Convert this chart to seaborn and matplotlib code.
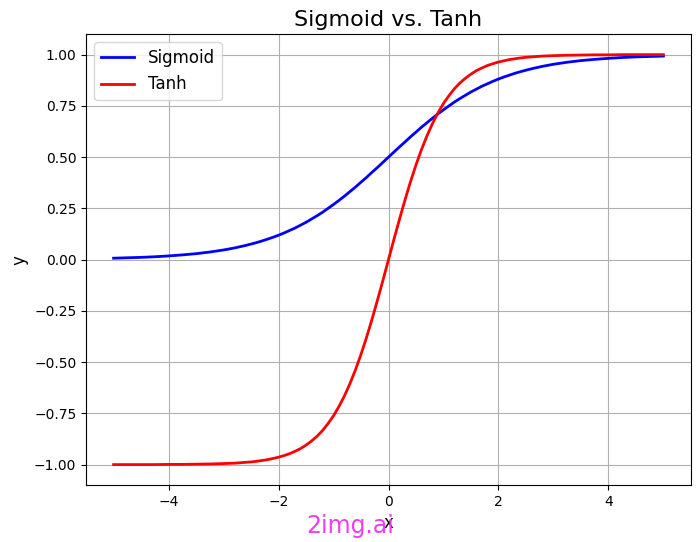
import matplotlib
matplotlib.use("Agg")
import matplotlib.pyplot as plt
import seaborn as sns
import pandas as pd

x_vals = [-5.0, -4.75, -4.5, -4.25, -4.0, -3.75, -3.5, -3.25,
          -3.0, -2.9, -2.8, -2.7, -2.6, -2.5, -2.4, -2.3, -2.2, -2.1,
          -2.0, -1.9, -1.8, -1.7, -1.6, -1.5, -1.4, -1.3, -1.2, -1.1,
          -1.0, -0.9, -0.8, -0.7, -0.6, -0.5, -0.4, -0.3, -0.2, -0.1,
          0.0, 0.1, 0.2, 0.3, 0.4, 0.5, 0.6, 0.7, 0.8, 0.9,
          1.0, 1.1, 1.2, 1.3, 1.4, 1.5, 1.6, 1.7, 1.8, 1.9,
          2.0, 2.1, 2.2, 2.3, 2.4, 2.5, 2.6, 2.7, 2.8, 2.9,
          3.0, 3.25, 3.5, 3.75, 4.0, 4.25, 4.5, 4.75, 5.0]
sigmoid_vals = [0.007, 0.009, 0.011, 0.014, 0.018, 0.023, 0.029, 0.037,
                0.047, 0.052, 0.057, 0.063, 0.069, 0.076, 0.083, 0.091, 0.100, 0.109,
                0.119, 0.130, 0.142, 0.154, 0.168, 0.182, 0.198, 0.214, 0.231, 0.250,
                0.269, 0.289, 0.310, 0.332, 0.354, 0.378, 0.401, 0.426, 0.450, 0.475,
                0.500, 0.525, 0.550, 0.574, 0.599, 0.622, 0.646, 0.668, 0.690, 0.711,
                0.731, 0.750, 0.769, 0.786, 0.802, 0.818, 0.832, 0.846, 0.858, 0.870,
                0.881, 0.891, 0.900, 0.909, 0.917, 0.924, 0.931, 0.937, 0.943, 0.948,
                0.953, 0.963, 0.971, 0.977, 0.982, 0.986, 0.989, 0.991, 0.993]
tanh_vals = [-1.000, -1.000, -1.000, -1.000, -0.999, -0.999, -0.998, -0.997,
             -0.995, -0.994, -0.993, -0.991, -0.989, -0.987, -0.984, -0.980, -0.976, -0.970,
             -0.964, -0.956, -0.947, -0.935, -0.922, -0.905, -0.885, -0.862, -0.834, -0.800,
             -0.762, -0.716, -0.664, -0.604, -0.537, -0.462, -0.380, -0.291, -0.197, -0.100,
             0.000, 0.100, 0.197, 0.291, 0.380, 0.462, 0.537, 0.604, 0.664, 0.716,
             0.762, 0.800, 0.834, 0.862, 0.885, 0.905, 0.922, 0.935, 0.947, 0.956,
             0.964, 0.970, 0.976, 0.980, 0.984, 0.987, 0.989, 0.991, 0.993, 0.994,
             0.995, 0.997, 0.998, 0.999, 0.999, 1.000, 1.000, 1.000, 1.000]

series_names = ["Sigmoid", "Tanh"]
series_colors = ["blue", "red"]

df = pd.DataFrame({"x": x_vals, "Sigmoid": sigmoid_vals, "Tanh": tanh_vals})

fig = plt.figure(figsize=(7.0, 5.42), dpi=100)
ax = fig.add_axes([0.123, 0.105, 0.864, 0.832])

for name, col in zip(series_names, series_colors):
    sns.lineplot(data=df, x="x", y=name, ax=ax, color=col, linewidth=2, label=name)

ax.set_title("Sigmoid vs. Tanh", fontsize=16)
ax.set_xlabel("x", fontsize=12)
ax.set_ylabel("y", fontsize=12)
ax.grid(True)
ax.legend(fontsize=12, loc="upper left")

fig.text(0.5, 0.007, "2img.ai", color="#ee3fee", fontsize=17, ha="center", va="bottom")

fig.savefig("out.png", dpi=100)
